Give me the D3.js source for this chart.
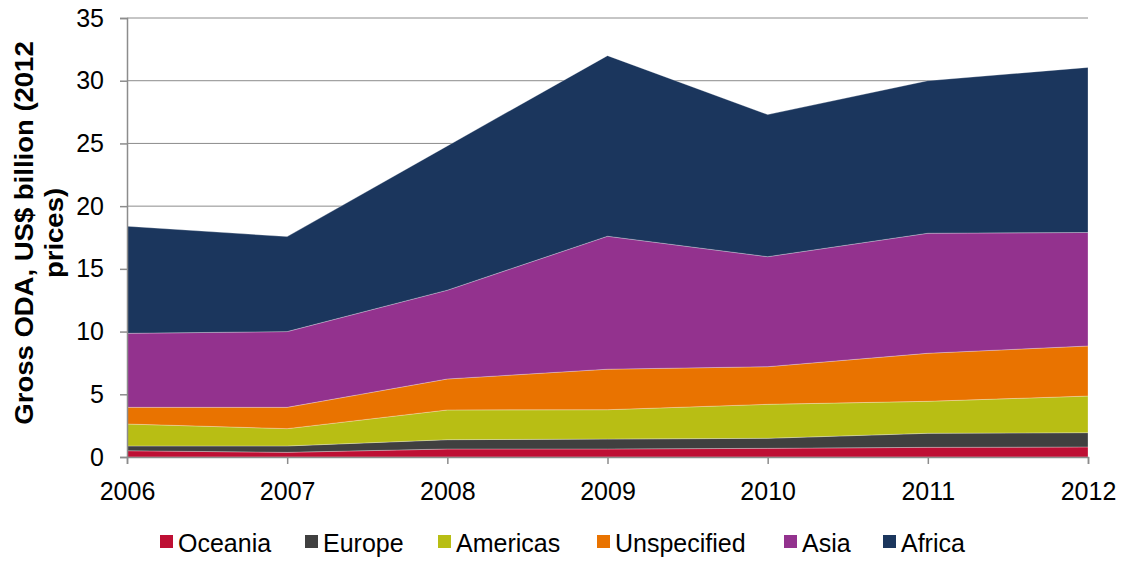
<!DOCTYPE html>
<html>

<head>
  <title>Gross ODA by region</title>
  <style>
    body { margin: 0; background: #fff; }
    text { font-family: "Liberation Sans", Arial, sans-serif; }
  </style>
</head>

<body>
  <svg id="svg"></svg>

  <script src="https://d3js.org/d3.v7.min.js"></script>
  <script>
    // data (US$ billion, 2012 prices)
    let years = [2006, 2007, 2008, 2009, 2010, 2011, 2012];
    let regions = ["Oceania", "Europe", "Americas", "Unspecified", "Asia", "Africa"];
    let oceania = [0.50, 0.37, 0.64, 0.64, 0.69, 0.77, 0.80];
    let europe = [0.38, 0.51, 0.74, 0.79, 0.80, 1.12, 1.14];
    let americas = [1.75, 1.38, 2.37, 2.34, 2.71, 2.55, 2.92];
    let unspecified = [1.33, 1.70, 2.47, 3.23, 3.00, 3.83, 3.99];
    let asia = [5.90, 6.04, 7.08, 10.60, 8.77, 9.57, 9.05];
    let africa = [8.54, 7.57, 11.50, 14.40, 11.33, 12.16, 13.16];
    let yTicks = [0, 5, 10, 15, 20, 25, 30, 35];
    let colors = ["#BE0F34", "#404040", "#B8BE14", "#E97300", "#93328E", "#1B365D"];

    let width = 1125, height = 561;
    let margin = { top: 18, right: 37, bottom: 104, left: 127 };
    let w = width - margin.left - margin.right;
    let h = height - margin.top - margin.bottom;

    let series = [oceania, europe, americas, unspecified, asia, africa];
    let table = years.map((yr, i) => {
      let row = { year: yr };
      regions.forEach((r, j) => row[r] = series[j][i]);
      return row;
    });

    let svg = d3.select("#svg").attr("width", width).attr("height", height);
    let g = svg.append("g").attr("transform", `translate(${margin.left}, ${margin.top})`);

    let xScale = d3.scaleLinear().domain([2006, 2012]).range([0, w]);
    let yScale = d3.scaleLinear().domain([0, 35]).range([h, 0]);
    let zScale = d3.scaleOrdinal().domain(regions).range(colors);

    // gridlines
    g.append("g")
      .selectAll("line")
      .data(yTicks.slice(1))
      .join("line")
      .attr("x1", 0)
      .attr("x2", w)
      .attr("y1", d => yScale(d))
      .attr("y2", d => yScale(d))
      .attr("stroke", "#8c8c8c")
      .attr("stroke-width", 1);

    let stacked = d3.stack().keys(regions)(table);
    let area = d3.area()
      .x(d => xScale(d.data.year))
      .y0(d => yScale(d[0]))
      .y1(d => yScale(d[1]));

    g.append("g")
      .selectAll("path")
      .data(stacked)
      .join("path")
      .attr("d", area)
      .attr("fill", d => zScale(d.key))
      .attr("stroke", "rgba(255,255,255,0.35)")
      .attr("stroke-width", 0.8);

    // axes
    let yAxis = g.append("g")
      .call(d3.axisLeft(yScale).tickValues(yTicks).tickSize(7).tickPadding(16));
    let xAxis = g.append("g")
      .attr("transform", `translate(0, ${h})`)
      .call(d3.axisBottom(xScale).tickValues(years).tickFormat(d3.format("d")).tickSize(7).tickPadding(18));

    [xAxis, yAxis].forEach(ax => {
      ax.select(".domain").attr("stroke", "#8c8c8c").attr("stroke-width", 1.5);
      ax.selectAll(".tick line").attr("stroke", "#8c8c8c").attr("stroke-width", 1.5);
      ax.selectAll(".tick text").attr("fill", "#000").style("font-size", "25px")
        .style("font-family", "'Liberation Sans', Arial, sans-serif");
    });

    // y axis title
    let title = svg.append("text")
      .attr("transform", `translate(33, 233) rotate(-90) scale(1.1, 1)`)
      .attr("text-anchor", "middle")
      .style("font-size", "25px")
      .style("font-weight", "bold");
    title.append("tspan").attr("x", 0).attr("dy", 0).text("Gross ODA, US$ billion (2012");
    title.append("tspan").attr("x", 0).attr("dy", 30).text("prices)");

    // legend
    let legendX = [160, 305, 438, 597, 784, 883];
    let legend = svg.append("g").attr("transform", "translate(0, 542)");
    let item = legend.selectAll("g")
      .data(regions)
      .join("g")
      .attr("transform", (d, i) => `translate(${legendX[i]}, 0)`);
    item.append("rect")
      .attr("x", 0)
      .attr("y", -7)
      .attr("width", 13)
      .attr("height", 13)
      .attr("fill", d => zScale(d));
    item.append("text")
      .attr("x", 18)
      .attr("y", 10)
      .style("font-size", "25px")
      .text(d => d);
  </script>
</body>

</html>
